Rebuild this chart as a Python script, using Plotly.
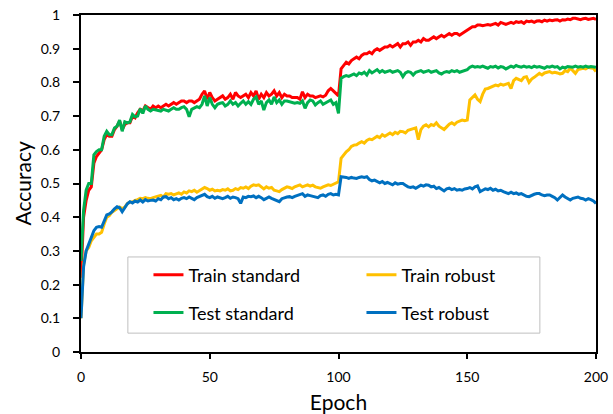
import plotly.graph_objects as go

epochs = list(range(0, 201))

train_standard = [
    0.22, 0.40, 0.45, 0.48, 0.49, 0.56, 0.58, 0.59, 0.60, 0.63,
    0.645, 0.64, 0.64, 0.66, 0.67, 0.685, 0.66, 0.675, 0.68, 0.68,
    0.70, 0.695, 0.71, 0.72, 0.715, 0.73, 0.725, 0.72, 0.73, 0.725,
    0.73, 0.725, 0.73, 0.735, 0.73, 0.735, 0.74, 0.735, 0.74, 0.745,
    0.745, 0.74, 0.745, 0.745, 0.74, 0.745, 0.75, 0.765, 0.775, 0.75,
    0.77, 0.755, 0.745, 0.75, 0.755, 0.76, 0.75, 0.755, 0.765, 0.75,
    0.77, 0.76, 0.755, 0.76, 0.765, 0.755, 0.77, 0.76, 0.775, 0.75,
    0.765, 0.755, 0.77, 0.76, 0.765, 0.775, 0.76, 0.77, 0.755, 0.765,
    0.76, 0.76, 0.755, 0.755, 0.755, 0.75, 0.772, 0.755, 0.765, 0.76,
    0.76, 0.755, 0.757, 0.76, 0.757, 0.762, 0.775, 0.782, 0.775, 0.766,
    0.76, 0.84, 0.85, 0.86, 0.855, 0.865, 0.87, 0.875, 0.87, 0.88,
    0.885, 0.885, 0.89, 0.885, 0.895, 0.90, 0.895, 0.90, 0.905, 0.905,
    0.91, 0.905, 0.91, 0.915, 0.905, 0.915, 0.915, 0.92, 0.91, 0.92,
    0.92, 0.925, 0.92, 0.93, 0.925, 0.925, 0.93, 0.935, 0.93, 0.935,
    0.94, 0.935, 0.94, 0.945, 0.94, 0.945, 0.945, 0.94, 0.945, 0.95,
    0.955, 0.96, 0.965, 0.965, 0.97, 0.97, 0.968, 0.97, 0.972, 0.97,
    0.972, 0.975, 0.97, 0.978, 0.975, 0.972, 0.975, 0.978, 0.975, 0.98,
    0.978, 0.98, 0.975, 0.982, 0.98, 0.982, 0.978, 0.982, 0.983, 0.98,
    0.985, 0.982, 0.985, 0.983, 0.985, 0.986, 0.982, 0.986, 0.985, 0.988,
    0.986, 0.99, 0.99, 0.988, 0.986, 0.989, 0.99, 0.987, 0.988, 0.99,
    0.987,
]

test_standard = [
    0.27, 0.42, 0.48, 0.50, 0.50, 0.585, 0.595, 0.60, 0.60, 0.64,
    0.655, 0.645, 0.645, 0.665, 0.67, 0.688, 0.655, 0.683, 0.68, 0.683,
    0.705, 0.698, 0.70, 0.722, 0.708, 0.73, 0.72, 0.715, 0.72, 0.718,
    0.718, 0.715, 0.72, 0.718, 0.715, 0.72, 0.725, 0.72, 0.72, 0.725,
    0.728, 0.72, 0.698, 0.72, 0.725, 0.728, 0.725, 0.735, 0.76, 0.73,
    0.755, 0.735, 0.725, 0.735, 0.738, 0.74, 0.73, 0.735, 0.745, 0.735,
    0.74, 0.73, 0.738, 0.745, 0.735, 0.743, 0.735, 0.75, 0.757, 0.735,
    0.745, 0.718, 0.74, 0.748, 0.735, 0.757, 0.74, 0.748, 0.735, 0.745,
    0.745, 0.743, 0.74, 0.738, 0.74, 0.738, 0.745, 0.723, 0.74, 0.748,
    0.745, 0.733, 0.74, 0.745, 0.735, 0.74, 0.745, 0.748, 0.735, 0.74,
    0.708, 0.812, 0.817, 0.82, 0.818, 0.822, 0.825, 0.82, 0.828, 0.825,
    0.83, 0.822, 0.835, 0.828, 0.832, 0.838, 0.83, 0.835, 0.83, 0.832,
    0.835, 0.83, 0.832, 0.835, 0.83, 0.817, 0.828, 0.832, 0.83, 0.822,
    0.83, 0.832, 0.835, 0.83, 0.832, 0.835, 0.83, 0.832, 0.835, 0.828,
    0.825, 0.83, 0.832, 0.83, 0.835, 0.832, 0.835, 0.83, 0.832, 0.835,
    0.838, 0.845, 0.848, 0.845, 0.847, 0.845, 0.848, 0.845, 0.842, 0.847,
    0.845, 0.848, 0.843, 0.847, 0.845, 0.84, 0.845, 0.848, 0.845, 0.85,
    0.847, 0.845, 0.848, 0.845, 0.847, 0.844, 0.848, 0.845, 0.847, 0.845,
    0.842, 0.847, 0.845, 0.848, 0.845, 0.847, 0.84, 0.845, 0.843, 0.847,
    0.845, 0.845, 0.848, 0.845, 0.847, 0.845, 0.848, 0.845, 0.847, 0.846,
    0.845,
]

train_robust = [
    0.10, 0.26, 0.30, 0.31, 0.33, 0.34, 0.35, 0.35, 0.355, 0.38,
    0.40, 0.405, 0.415, 0.42, 0.425, 0.43, 0.425, 0.43, 0.44, 0.445,
    0.445, 0.45, 0.452, 0.456, 0.455, 0.458, 0.456, 0.455, 0.458, 0.46,
    0.462, 0.465, 0.46, 0.47, 0.468, 0.47, 0.466, 0.47, 0.472, 0.468,
    0.475, 0.472, 0.478, 0.476, 0.48, 0.474, 0.478, 0.482, 0.488, 0.485,
    0.48, 0.483, 0.478, 0.48, 0.478, 0.482, 0.48, 0.484, 0.478, 0.48,
    0.485, 0.482, 0.488, 0.486, 0.49, 0.485, 0.492, 0.496, 0.494, 0.496,
    0.49, 0.484, 0.49, 0.486, 0.488, 0.48, 0.478, 0.476, 0.482, 0.485,
    0.49, 0.488, 0.485, 0.49, 0.494, 0.496, 0.49, 0.494, 0.496, 0.492,
    0.495, 0.49, 0.488, 0.486, 0.49, 0.492, 0.496, 0.494, 0.498, 0.50,
    0.505, 0.575, 0.585, 0.594, 0.60, 0.61, 0.614, 0.615, 0.62, 0.624,
    0.62, 0.628, 0.632, 0.63, 0.635, 0.64, 0.636, 0.645, 0.64, 0.645,
    0.65, 0.645, 0.652, 0.648, 0.655, 0.654, 0.65, 0.658, 0.66, 0.664,
    0.665, 0.63, 0.66, 0.67, 0.674, 0.668, 0.675, 0.672, 0.68, 0.67,
    0.665, 0.66, 0.668, 0.676, 0.68, 0.675, 0.682, 0.685, 0.688, 0.686,
    0.688, 0.748, 0.755, 0.763, 0.75, 0.743, 0.765, 0.78, 0.782, 0.785,
    0.79, 0.792, 0.79, 0.795, 0.792, 0.795, 0.797, 0.782, 0.805, 0.812,
    0.808, 0.805, 0.815, 0.817, 0.80, 0.81, 0.815, 0.82, 0.827, 0.822,
    0.828, 0.83, 0.832, 0.828, 0.83, 0.828, 0.825, 0.827, 0.835, 0.832,
    0.842, 0.835, 0.827, 0.838, 0.84, 0.842, 0.84, 0.845, 0.843, 0.842,
    0.832,
]

test_robust = [
    0.10, 0.253, 0.30, 0.32, 0.337, 0.36, 0.37, 0.372, 0.37, 0.39,
    0.407, 0.41, 0.416, 0.425, 0.431, 0.428, 0.416, 0.428, 0.44, 0.446,
    0.442, 0.448, 0.445, 0.451, 0.445, 0.452, 0.448, 0.45, 0.451, 0.448,
    0.455, 0.452, 0.46, 0.461, 0.455, 0.458, 0.452, 0.455, 0.451, 0.456,
    0.458, 0.455, 0.46, 0.456, 0.452, 0.458, 0.462, 0.465, 0.468, 0.461,
    0.458, 0.462, 0.456, 0.46, 0.458, 0.455, 0.458, 0.462, 0.456, 0.46,
    0.458, 0.455, 0.441, 0.46, 0.458, 0.462, 0.461, 0.463, 0.458, 0.462,
    0.458, 0.452, 0.456, 0.46, 0.456, 0.452, 0.448, 0.446, 0.455, 0.458,
    0.46, 0.461, 0.458, 0.462, 0.465, 0.468, 0.47, 0.462, 0.466, 0.464,
    0.462, 0.461, 0.458, 0.464, 0.466, 0.462, 0.468, 0.47, 0.466, 0.468,
    0.466, 0.52, 0.52, 0.518, 0.515, 0.518, 0.516, 0.515, 0.518, 0.52,
    0.518, 0.52, 0.512, 0.508, 0.51, 0.505, 0.502, 0.506, 0.50, 0.503,
    0.50, 0.496, 0.502, 0.498, 0.50, 0.50, 0.495, 0.49, 0.488, 0.49,
    0.486, 0.49, 0.495, 0.492, 0.496, 0.495, 0.49, 0.492, 0.485, 0.488,
    0.482, 0.478, 0.484, 0.486, 0.482, 0.485, 0.48, 0.482, 0.48, 0.484,
    0.485, 0.488, 0.484, 0.49, 0.493, 0.476, 0.48, 0.484, 0.482, 0.486,
    0.48, 0.483, 0.478, 0.48, 0.476, 0.472, 0.47, 0.474, 0.47, 0.472,
    0.468, 0.47, 0.465, 0.462, 0.461, 0.465, 0.468, 0.47, 0.47, 0.466,
    0.464, 0.466, 0.466, 0.462, 0.458, 0.451, 0.46, 0.466, 0.46, 0.456,
    0.451, 0.456, 0.458, 0.46, 0.456, 0.455, 0.451, 0.455, 0.452, 0.448,
    0.441,
]

x_ticks = [0, 50, 100, 150, 200]
y_ticks = [0, 0.1, 0.2, 0.3, 0.4, 0.5, 0.6, 0.7, 0.8, 0.9, 1]
y_tick_labels = ["0", "0.1", "0.2", "0.3", "0.4", "0.5", "0.6", "0.7", "0.8", "0.9", "1"]

FONT = "Lato"

fig = go.Figure()
series = [
    ("Train standard", train_standard, "#FF0000", "legend"),
    ("Train robust", train_robust, "#FFC000", "legend"),
    ("Test standard", test_standard, "#00B050", "legend2"),
    ("Test robust", test_robust, "#0070C0", "legend2"),
]
for name, vals, color, lg in series:
    fig.add_trace(go.Scatter(
        x=epochs, y=vals, mode="lines", name=name,
        line=dict(color=color, width=3),
        legend=lg,
    ))

legend_common = dict(
    orientation="h", xanchor="left", yanchor="middle",
    entrywidth=168, entrywidthmode="pixels",
    bgcolor="rgba(0,0,0,0)", borderwidth=0,
    font=dict(family=FONT, size=18, color="#000000"),
)

fig.update_layout(
    width=613, height=414,
    margin=dict(l=81, r=17, t=15, b=62, autoexpand=False),
    paper_bgcolor="white", plot_bgcolor="white",
    font=dict(family=FONT, color="#000000"),
    showlegend=True,
    legend=dict(x=0.131, y=0.228, **legend_common),
    legend2=dict(x=0.131, y=0.116, **legend_common),
    xaxis=dict(
        range=[0, 200], tickvals=x_ticks, ticks="outside", ticklen=5,
        tickwidth=1.5, tickcolor="black", showline=True, linecolor="black",
        linewidth=2, mirror=True, showgrid=False, zeroline=False,
        automargin=False, ticklabelstandoff=6,
        tickfont=dict(family=FONT, size=14, color="black"),
        title=dict(text="Epoch", font=dict(family=FONT, size=21, color="black"), standoff=12),
    ),
    yaxis=dict(
        range=[0, 1], tickvals=y_ticks, ticktext=y_tick_labels, ticks="outside",
        ticklen=6, tickwidth=1.5, tickcolor="black", showline=True,
        linecolor="black", linewidth=2, mirror=True, showgrid=False,
        zeroline=False, automargin=False, ticklabelstandoff=10,
        tickfont=dict(family=FONT, size=14, color="black"),
    ),
    annotations=[dict(
        text="Accuracy", xref="paper", yref="paper",
        x=(22 - 81) / 515, y=0.5, xanchor="center", yanchor="middle",
        textangle=-90, showarrow=False,
        font=dict(family=FONT, size=21, color="black"),
    )],
    shapes=[dict(
        type="rect", xref="paper", yref="paper",
        x0=0.091, x1=0.891, y0=0.056, y1=0.282,
        line=dict(color="#BFBFBF", width=1), fillcolor="white", layer="above",
    )],
)

fig.write_html("out.html")
